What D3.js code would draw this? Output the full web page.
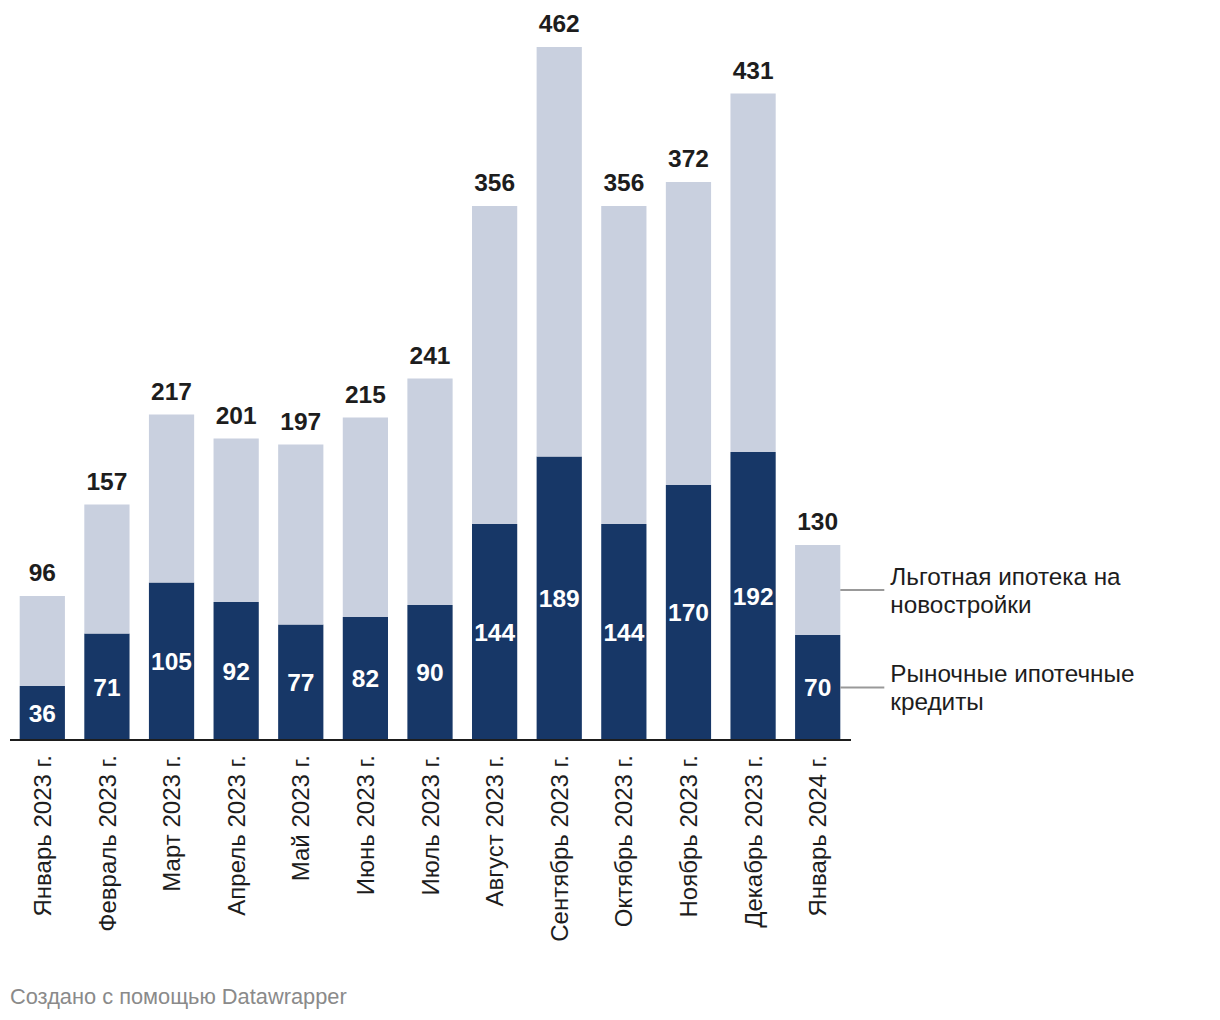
<!DOCTYPE html>
<html><head><meta charset="utf-8">
<script src="https://cdn.jsdelivr.net/npm/d3@7"></script>
<style>
body{margin:0;background:#fff;font-family:"Liberation Sans",Arial,sans-serif;}
</style></head>
<body><svg id="c" width="1220" height="1020"></svg>
<script>
const categories = ["Январь 2023 г.","Февраль 2023 г.","Март 2023 г.","Апрель 2023 г.","Май 2023 г.","Июнь 2023 г.","Июль 2023 г.","Август 2023 г.","Сентябрь 2023 г.","Октябрь 2023 г.","Ноябрь 2023 г.","Декабрь 2023 г.","Январь 2024 г."];
const market = [36,71,105,92,77,82,90,144,189,144,170,192,70];
const preferential = [60,86,112,109,120,133,151,212,273,212,202,239,60];
const totals = [96,157,217,201,197,215,241,356,462,356,372,431,130];
const seriesNames = ["Рыночные ипотечные кредиты","Льготная ипотека на новостройки"];
const legendLines = [["Рыночные ипотечные","кредиты"],["Льготная ипотека на","новостройки"]];
const colors = ["#173767","#c9d0df"];
const FONT = "'Liberation Sans', Arial, sans-serif";

const svg = d3.select("#c").attr("font-family",FONT);
const x = d3.scaleBand().domain(categories).range([10,850]).paddingInner(0.3).paddingOuter(0.15);
const y = d3.scaleLinear().domain([0,462]).range([740,47]);

const rows = categories.map((c,i)=>({cat:c, m:market[i], p:preferential[i], t:totals[i]}));

svg.append("g").selectAll("rect").data(rows).join("rect")
  .attr("x",d=>x(d.cat)).attr("width",x.bandwidth())
  .attr("y",d=>y(d.m)).attr("height",d=>y(0)-y(d.m)).attr("fill",colors[0]);
svg.append("g").selectAll("rect").data(rows).join("rect")
  .attr("x",d=>x(d.cat)).attr("width",x.bandwidth())
  .attr("y",d=>y(d.m+d.p)).attr("height",d=>y(d.m)-y(d.m+d.p)).attr("fill",colors[1]);

svg.append("g").selectAll("text").data(rows).join("text")
  .attr("x",d=>x(d.cat)+x.bandwidth()/2).attr("y",d=>(y(0)+y(d.m))/2)
  .attr("dy","0.36em").attr("text-anchor","middle")
  .attr("fill","#fff").attr("font-weight","700").attr("font-size","24.5px")
  .text(d=>d.m);
svg.append("g").selectAll("text").data(rows).join("text")
  .attr("x",d=>x(d.cat)+x.bandwidth()/2).attr("y",d=>y(d.t)-15)
  .attr("text-anchor","middle")
  .attr("fill","#1d1d1d").attr("font-weight","700").attr("font-size","24.5px")
  .text(d=>d.t);

const ax = svg.append("g").attr("transform","translate(0,740)")
  .call(d3.axisBottom(x).tickSize(0).tickPadding(0));
ax.select(".domain").remove();
ax.selectAll("text")
  .attr("font-family",FONT).attr("font-size","24px").attr("fill","#1d1d1d")
  .attr("transform","rotate(-90)").attr("text-anchor","end")
  .attr("x",-15).attr("y",0).attr("dy","0.36em");
svg.append("line").attr("x1",10).attr("x2",851).attr("y1",740).attr("y2",740)
  .attr("stroke","#1d1d1d").attr("stroke-width",2);

const last = rows[rows.length-1];
const lx = x(last.cat)+x.bandwidth();
const legY = [(y(0)+y(last.m))/2, (y(last.m)+y(last.m+last.p))/2];
legY.forEach((ly,i)=>{
  svg.append("line").attr("x1",lx).attr("x2",lx+44).attr("y1",ly).attr("y2",ly)
    .attr("stroke","#999").attr("stroke-width",2);
  const t = svg.append("text").attr("font-size","24.3px").attr("fill","#1d1d1d");
  legendLines[i].forEach((s,k)=>{
    t.append("tspan").attr("x",lx+50).attr("y",ly-14+k*28).attr("dy","0.36em").text(s);
  });
});

svg.append("text").attr("x",10).attr("y",1004).attr("font-size","21.8px").attr("fill","#8a8a8a")
  .text("Создано с помощью Datawrapper");
</script></body></html>
